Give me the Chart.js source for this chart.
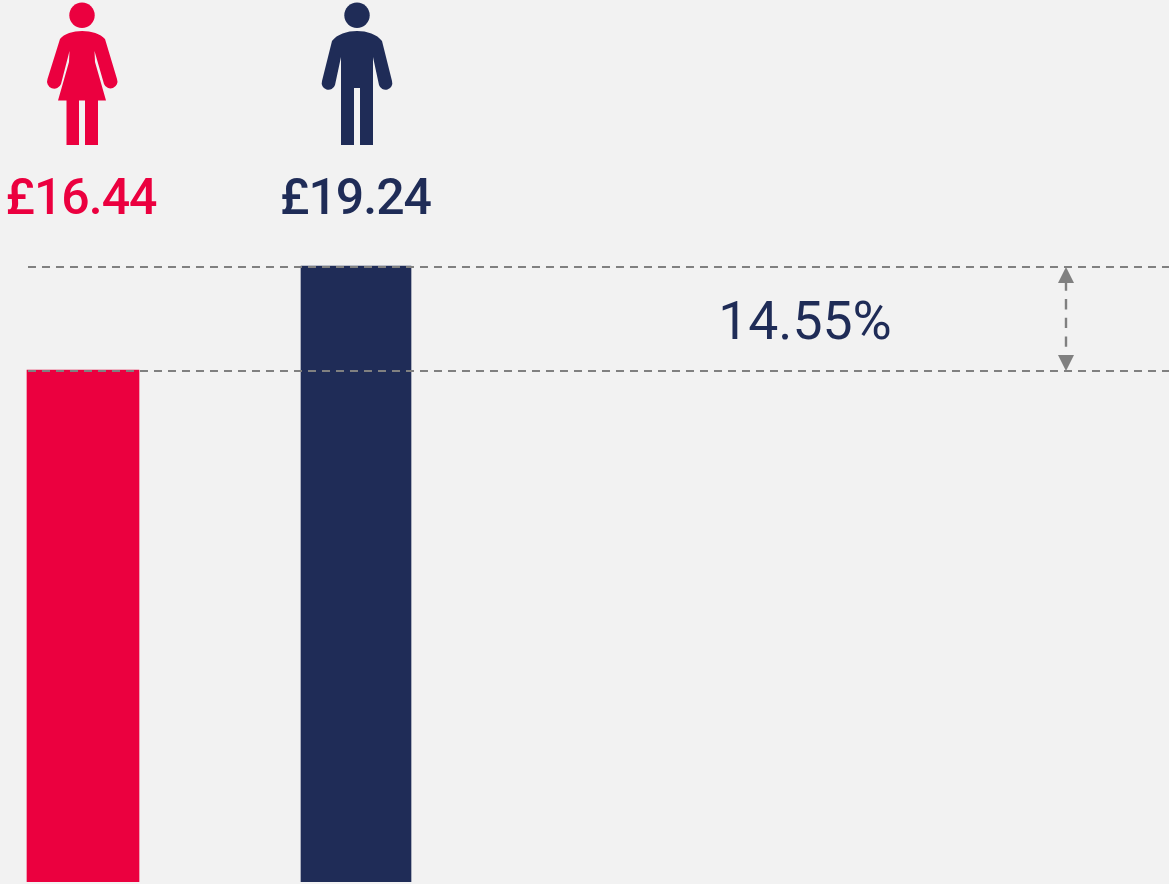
<!DOCTYPE html>
<html>
<head>
<meta charset="utf-8">
<title>Gender pay gap</title>
<script src="https://cdn.jsdelivr.net/npm/chart.js@4/dist/chart.umd.min.js"></script>
<style>
    html, body { margin: 0; padding: 0; background: #f2f2f2; overflow: hidden; }
    #wrap { position: relative; width: 1169px; height: 884px; }
</style>
</head>
<body>
<div id="wrap"><canvas id="payChart"></canvas></div>
<script>
"use strict";

var categories = ["Women", "Men"];
var positions = [0, 1];
var hourlyPay = [16.44, 19.24];
var payLabels = ["£16.44", "£19.24"];
var gapLabel = "14.55%";

var red = "#eb003f";
var navy = "#1f2c57";
var grey = "#808080";

// the axis is cut off below zero in the original, so the range is not 0 based
var yMin = 2.6554;
var yMax = 26.4016;
var xMin = -0.30403;
var xMax = 3.97802;
var lineStart = -0.2015;
var arrowX = 3.6007;
var gapTextX = 2.6447;

var womanIcon = "M-22 8 C-14 -2.7 14 -2.7 23 8 L35 48 A6.8 6.8 0 0 1 22 53 L12.5 20 L13 31 L24 69.5 L-24 69.5 L-13 31 L-12.5 20 L-21 53 A6.8 6.8 0 0 1 -34.5 48 Z M-15.5 69.5 H-3 V114 H-15.5 Z M3 69.5 H16 V114 H3 Z";
var manIcon = "M-25 10 C-15 -3.3 15 -3.3 25 10 L35 50 A6.8 6.8 0 0 1 22 54 L16 26 V114 H3 V57 H-3 V114 H-16 V26 L-22 54 A6.8 6.8 0 0 1 -35 50 Z";

function drawIcon(ctx, path, cx, color) {
    ctx.save();
    ctx.translate(cx, 31);
    ctx.fillStyle = color;
    ctx.fill(new Path2D(path));
    ctx.beginPath();
    ctx.arc(0, -15.7, 12.7, 0, Math.PI * 2);
    ctx.fill();
    ctx.restore();
}

function drawArrowHead(ctx, x, tipY, baseY) {
    ctx.beginPath();
    ctx.moveTo(x, tipY);
    ctx.lineTo(x - 8, baseY);
    ctx.lineTo(x + 8, baseY);
    ctx.closePath();
    ctx.fill();
}

// the dashed lines sit one pixel under the bar tops
var nudgeLines = {
    id: "nudgeLines",
    beforeDatasetDraw: function(chart, args) {
        if (chart.data.datasets[args.index].type === "line") {
            chart.ctx.save();
            chart.ctx.translate(0, 1);
        }
    },
    afterDatasetDraw: function(chart, args) {
        if (chart.data.datasets[args.index].type === "line") {
            chart.ctx.restore();
        }
    }
};

var extras = {
    id: "extras",
    afterDraw: function(chart) {
        var ctx = chart.ctx;
        var x = chart.scales.x;
        var y = chart.scales.y;
        var top = y.getPixelForValue(hourlyPay[1]) + 1;
        var bottom = y.getPixelForValue(hourlyPay[0]) + 1;
        var ax = Math.round(x.getPixelForValue(arrowX));

        drawIcon(ctx, womanIcon, x.getPixelForValue(positions[0]) - 1, red);
        drawIcon(ctx, manIcon, x.getPixelForValue(positions[1]) + 1, navy);

        ctx.textAlign = "center";
        ctx.textBaseline = "alphabetic";
        ctx.font = "500 50px Roboto";
        ctx.letterSpacing = "-1px";
        ctx.fillStyle = red;
        ctx.fillText(payLabels[0], x.getPixelForValue(positions[0]) - 2, 214);
        ctx.fillStyle = navy;
        ctx.fillText(payLabels[1], x.getPixelForValue(positions[1]) - 0.5, 214);

        ctx.letterSpacing = "0px";
        ctx.font = "400 53.5px Roboto";
        ctx.fillText(gapLabel, x.getPixelForValue(gapTextX), 339);

        ctx.strokeStyle = grey;
        ctx.fillStyle = grey;
        ctx.lineWidth = 2.4;
        ctx.setLineDash([10.4, 8.3]);
        ctx.beginPath();
        ctx.moveTo(ax, top + 13.3);
        ctx.lineTo(ax, bottom - 24);
        ctx.stroke();
        ctx.setLineDash([]);
        drawArrowHead(ctx, ax, top, top + 16);
        drawArrowHead(ctx, ax, bottom, bottom - 16);
    }
};

function lineDataset(value) {
    return {
        type: "line",
        order: 0,
        data: [{ x: lineStart, y: value }, { x: xMax, y: value }],
        borderColor: grey,
        borderWidth: 2,
        borderDash: [8, 6],
        pointRadius: 0,
        fill: false
    };
}

new Chart(document.getElementById("payChart"), {
    type: "bar",
    data: {
        datasets: [
            {
                label: categories[0],
                order: 1,
                data: [{ x: positions[0], y: hourlyPay[0] }],
                backgroundColor: red,
                barThickness: 112
            },
            {
                label: categories[1],
                order: 1,
                data: [{ x: positions[1], y: hourlyPay[1] }],
                backgroundColor: navy,
                barThickness: 110
            },
            lineDataset(hourlyPay[0]),
            lineDataset(hourlyPay[1])
        ]
    },
    options: {
        responsive: true,
        maintainAspectRatio: false,
        animation: false,
        grouped: false,
        layout: { padding: { bottom: 2 } },
        plugins: {
            legend: { display: false },
            tooltip: { enabled: false }
        },
        scales: {
            x: { type: "linear", display: false, offset: false, min: xMin, max: xMax },
            y: { display: false, min: yMin, max: yMax }
        }
    },
    plugins: [nudgeLines, extras]
});
</script>
</body>
</html>
